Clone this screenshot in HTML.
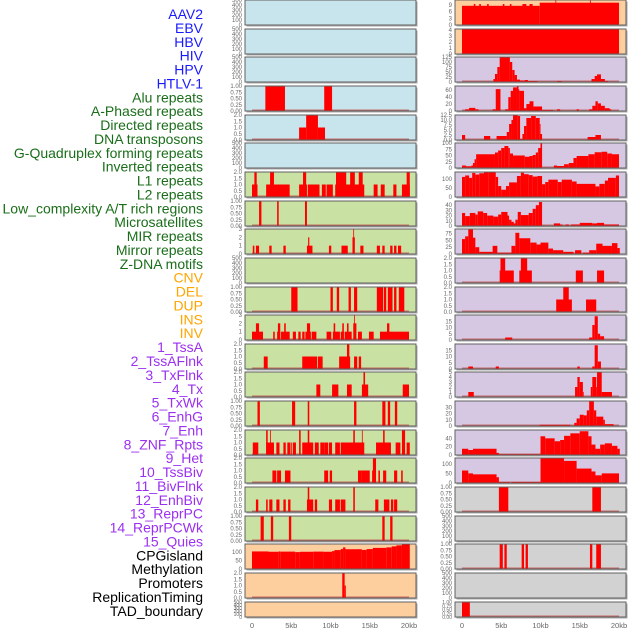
<!DOCTYPE html>
<html><head><meta charset="utf-8"><style>
html,body{margin:0;padding:0;background:#fff;}
svg{display:block;font-family:"Liberation Sans",sans-serif;}
</style></head><body>
<svg id="chart" width="630" height="630" viewBox="0 0 630 630" xmlns="http://www.w3.org/2000/svg"></svg>
<script>
const labelNames = ["AAV2","EBV","HBV","HIV","HPV","HTLV-1","Alu repeats","A-Phased repeats","Directed repeats","DNA transposons","G-Quadruplex forming repeats","Inverted repeats","L1 repeats","L2 repeats","Low_complexity A/T rich regions","Microsatellites","MIR repeats","Mirror repeats","Z-DNA motifs","CNV","DEL","DUP","INS","INV","1_TssA","2_TssAFlnk","3_TxFlnk","4_Tx","5_TxWk","6_EnhG","7_Enh","8_ZNF_Rpts","9_Het","10_TssBiv","11_BivFlnk","12_EnhBiv","13_ReprPC","14_ReprPCWk","15_Quies","CPGisland","Methylation","Promoters","ReplicationTiming","TAD_boundary"];
const labelGroups = [0,0,0,0,0,0,1,1,1,1,1,1,1,1,1,1,1,1,1,2,2,2,2,2,3,3,3,3,3,3,3,3,3,3,3,3,3,3,3,4,4,4,4,4];
const xTickValues = [0,5,10,15,20];
const xTickLabels = ["0","5kb","10kb","15kb","20kb"];

const leftBg = ["b","b","b","b","b","b","g","g","g","g","g","g","g","g","g","g","g","g","g","o","o","o"];
const rightBg = ["o","o","p","p","p","p","p","p","p","p","p","p","p","p","p","p","p","y","y","y","y","y"];
const leftYMax = [500,500,500,1,2,500,2,1,3,500,1,3,2,2,1,2,2,2,1,148,2,500];
const rightYMax = [11.2,4.2,125,72,12.5,100,137,48,92,2,2,20,20,5,40,60,130,1,500,1,500,1];
const leftTicks = [
 ["0","100","200","300","400","500"],["0","100","200","300","400","500"],["0","100","200","300","400","500"],
 ["0.00","0.25","0.50","0.75","1.00"],["0.0","0.5","1.0","1.5","2.0"],["0","100","200","300","400","500"],
 ["0.0","0.5","1.0","1.5","2.0"],["0.00","0.25","0.50","0.75","1.00"],["0","1","2","3"],["0","100","200","300","400","500"],
 ["0.00","0.25","0.50","0.75","1.00"],["0","1","2","3"],["0.0","0.5","1.0","1.5","2.0"],["0.0","0.5","1.0","1.5","2.0"],
 ["0.00","0.25","0.50","0.75","1.00"],["0.0","0.5","1.0","1.5","2.0"],["0.0","0.5","1.0","1.5","2.0"],["0.0","0.5","1.0","1.5","2.0"],
 ["0.00","0.25","0.50","0.75","1.00"],["0","50","100"],["0.0","0.5","1.0","1.5","2.0"],["0","100","200","300","400","500"]];
const rightTicks = [
 ["0","3","6","9"],["0","1","2","3","4"],["0","25","50","75","100","125"],["0","20","40","60"],["0.0","2.5","5.0","7.5","10.0","12.5"],
 ["0","25","50","75","100"],["0","50","100"],["0","10","20","30","40"],["0","25","50","75"],["0.0","0.5","1.0","1.5","2.0"],
 ["0.0","0.5","1.0","1.5","2.0"],["0","5","10","15"],["0","5","10","15"],["0","1","2","3","4","5"],["0","10","20","30"],
 ["0","20","40"],["0","50","100"],["0.00","0.25","0.50","0.75","1.00"],["0","100","200","300","400","500"],
 ["0.00","0.25","0.50","0.75","1.00"],["0","100","200","300","400","500"],["0.00","0.25","0.50","0.75","1.00"]];

const leftBars = [
 [],[],[],
 [[1.7,4.2,1],[9.2,10.2,1]],
 [[6.0,6.9,1],[6.9,8.4,2],[8.4,9.3,1]],
 [],
 [[0,0.7,1],[0.3,0.6,2],[1.8,4.8,1],[2.3,2.8,2],[6.0,7.0,1],[6.5,6.9,2],[7.1,8.6,1],[8.9,9.4,1],[9.5,10.3,1],[10.6,14.3,1],[10.7,12.0,2],[12.5,13.1,2],[13.6,14.1,2],[15.5,16.0,1],[16.4,16.9,1],[18.0,18.4,1],[19.1,20.1,1],[19.7,20.1,2]],
 [[0.9,1.2,1],[3.2,3.4,1],[6.75,7.0,1]],
 [[0.1,0.3,1],[0.5,0.9,1],[2.2,2.5,1],[4.0,4.3,1],[7.0,7.7,1],[7.15,7.3,2],[9.8,10.1,1],[11.4,12.2,1],[12.8,13.1,2],[12.9,13.0,3],[13.8,14.2,1],[15.9,16.3,1],[16.6,16.9,1],[17.6,17.9,1],[18.1,18.4,1],[18.6,19.0,1]],
 [],
 [[5.0,5.8,1],[10.0,10.3,1],[10.8,11.1,1],[12.3,12.6,1],[13.0,13.4,1],[15.9,16.7,1],[16.8,17.1,1],[17.3,17.9,1],[18.1,18.4,1],[18.7,19.4,1]],
 [[0,1.4,1],[0.5,0.9,2],[2.7,2.9,1],[3.2,3.6,1],[3.3,3.6,2],[3.7,4.8,1],[4.1,4.3,2],[5.2,5.6,1],[5.9,6.2,1],[6.4,6.7,1],[6.8,7.5,1],[7.0,7.4,2],[7.6,8.2,1],[9.5,10.1,1],[10.3,11.2,1],[10.4,10.6,2],[11.3,11.7,1],[11.5,11.7,2],[11.8,12.7,1],[12.1,12.3,2],[12.9,13.3,2],[13.0,13.1,3],[13.5,14.0,1],[14.9,15.5,1],[16.3,20.0,1],[17.2,17.5,2]],
 [[1.5,2.0,1],[6.4,8.3,1],[8.4,9.0,1],[11.1,12.5,1],[12.1,12.4,2],[13.0,13.4,1],[13.6,13.9,1]],
 [[8.2,8.7,1],[10.2,11.0,1],[12.1,12.7,1],[14.0,14.8,1],[14.2,14.4,2],[19.2,20.0,1]],
 [[0.7,1.0,1],[5.1,5.5,1],[7.1,7.3,1],[13.0,13.3,1],[16.6,17.0,1],[17.3,17.6,1],[18.2,18.5,1]],
 [[0.1,0.8,1],[1.8,2.8,1],[1.8,2.0,2],[2.3,2.4,2],[3.1,3.5,1],[4.0,4.3,1],[4.5,4.9,1],[5.0,5.1,1],[5.2,5.6,1],[6.0,6.2,2],[6.4,7.8,1],[7.1,7.3,2],[8.0,8.5,1],[8.7,9.2,1],[9.2,9.7,1],[9.8,10.2,1],[10.6,11.2,1],[11.3,14.3,1],[12.9,13.1,2],[14.0,14.1,2],[15.8,17.7,1],[16.7,16.9,2],[18.3,18.9,1],[19.1,19.5,2],[19.7,20.1,1]],
 [[2.6,3.1,1],[3.2,3.7,1],[4.2,4.9,1],[9.2,9.7,1],[9.9,10.2,1],[13.5,14.0,1],[14.0,15.0,1],[15.3,15.8,1],[15.4,15.8,2],[16.1,16.3,1],[16.7,17.1,1],[18.1,18.5,1],[19.0,19.2,1]],
 [[0.5,0.8,1],[1.8,2.0,1],[2.2,2.6,1],[3.1,3.5,1],[4.0,4.3,1],[4.6,4.9,1],[7.0,7.8,1],[7.1,7.3,2],[8.0,8.3,1],[9.8,10.2,1],[10.6,11.2,1],[11.3,11.9,1],[12.9,13.1,2],[15.7,16.1,1],[16.8,17.5,1],[17.7,18.0,1],[18.1,18.5,1]],
 [[1.1,1.5,1],[2.4,2.7,1],[4.7,5.0,1],[16.6,16.9,1],[17.6,17.9,1]],
 [[0,2.1,104],[2.1,3.4,102],[3.4,3.6,104],[3.6,5.5,103],[5.5,6.1,100],[6.1,7.8,102],[7.8,9.1,103],[9.1,10.2,102],[10.2,10.5,106],[10.5,11.3,112],[11.3,11.6,118],[11.6,11.9,128],[11.9,14.0,117],[14.0,14.6,113],[14.6,15.4,118],[15.4,17.1,125],[17.1,17.8,128],[17.8,18.4,134],[18.4,19.1,140],[19.1,20.1,148]],
 [[11.5,11.8,2],[11.8,11.95,1]],
 []];

const rightBars = [
 [[0,9.9,8.6],[9.9,20,10.0],[1.5,1.7,9.4],[2.2,2.4,9.4],[3.2,3.4,9.4],[5.2,5.4,9.4],[6.1,6.3,9.4],[7.7,8.2,9.4],[8.6,9.0,9.4],[11.9,12.0,11.2],[16.3,16.4,11.2]],
 [[0,20,4.2]],
 [[4.0,4.2,15],[4.2,4.5,40],[4.5,4.8,75],[4.8,6.1,125],[6.1,6.4,100],[6.4,6.7,60],[6.7,7.0,35],[7.0,7.4,12],[7.4,8.0,8],[8.0,8.4,10],[8.4,9.6,5],[12.1,12.7,5],[16.5,16.9,15],[16.9,17.2,30],[17.2,17.7,38],[17.7,18.2,15],[18.2,18.6,5]],
 [[0.4,0.9,5],[0.9,1.7,9],[1.7,2.1,5],[3.9,4.3,5],[4.3,4.9,63],[5.5,5.9,5],[5.9,6.2,40],[6.2,6.5,58],[6.5,7.0,68],[7.0,7.2,72],[7.2,7.3,62],[7.3,7.9,58],[7.9,8.2,8],[8.2,8.6,20],[8.6,9.1,28],[9.1,10.2,13],[10.2,11.6,3],[12.1,12.5,5],[14.6,14.9,5],[16.2,16.6,5],[16.6,17.0,15],[17.0,17.3,28],[17.3,17.7,22],[17.7,18.2,15],[18.2,18.8,8],[18.8,19.0,5]],
 [[0,0.4,2.5],[2.8,3.6,2],[4.4,5.7,2],[5.7,6.0,4],[6.0,6.3,8],[6.3,6.5,10],[6.5,7.1,12.5],[7.1,7.4,12],[7.4,7.7,0.5],[7.7,7.9,3],[7.9,8.2,7],[8.2,8.8,11],[8.8,9.4,12],[9.4,9.9,11],[9.9,10.0,8],[10.0,10.2,3],[16.0,17.0,1.5],[17.0,17.7,2.5]],
 [[0,0.5,10],[0.5,1.2,7],[1.2,1.4,10],[1.4,1.6,20],[1.6,1.8,35],[1.8,2.1,55],[2.1,4.2,55],[4.2,4.6,62],[4.6,5.0,70],[5.0,5.4,80],[5.4,5.9,88],[5.9,6.1,80],[6.1,6.5,58],[6.5,8.0,50],[8.0,8.6,45],[8.6,9.0,48],[9.0,9.4,52],[9.4,9.7,62],[9.7,10.0,80],[10.0,10.2,100],[11.7,12.1,10],[12.1,13.0,8],[13.0,13.6,15],[13.6,14.2,20],[14.2,14.6,40],[14.6,16.1,48],[16.1,16.9,55],[16.9,17.8,63],[17.8,18.5,65],[18.5,19.1,58],[19.1,20.0,55]],
 [[0,0.4,110],[0.4,0.9,118],[0.9,1.3,105],[1.3,1.7,132],[1.7,2.2,123],[2.2,2.8,130],[2.8,3.4,135],[3.4,4.3,137],[4.3,4.6,110],[4.6,5.0,60],[5.0,5.6,40],[5.6,6.0,60],[6.0,7.0,80],[7.0,7.5,115],[7.5,7.9,133],[7.9,8.5,125],[8.5,9.0,120],[9.0,9.6,112],[9.6,10.2,115],[10.2,10.6,70],[10.6,11.0,82],[11.0,12.2,95],[12.2,12.7,82],[12.7,14.0,95],[14.0,14.6,85],[14.6,17.0,72],[17.0,17.5,58],[17.5,18.2,72],[18.2,18.6,90],[18.6,19.6,105],[19.6,20.0,118]],
 [[0,0.4,25],[0.4,1.0,19],[1.0,1.7,25],[1.7,2.0,22],[2.0,2.7,28],[2.7,3.2,25],[3.2,4.0,20],[4.0,4.6,18],[4.6,5.0,22],[5.0,5.8,27],[5.8,6.0,20],[6.0,6.3,12],[6.3,6.6,8],[6.6,6.8,5],[6.8,7.1,12],[7.1,7.5,27],[7.5,8.5,21],[8.5,9.0,25],[9.0,9.4,33],[9.4,9.8,40],[9.8,10.2,46],[10.2,11.7,1],[11.7,12.5,5],[12.5,12.8,3],[13.2,13.6,3],[13.9,15.0,3],[15.0,16.6,6],[16.6,17.2,5],[17.2,18.1,6],[18.1,20.0,3]],
 [[0,0.4,55],[0.4,0.8,65],[0.8,1.4,90],[1.4,1.7,60],[1.7,2.2,25],[2.2,3.9,8],[3.9,4.5,30],[4.5,6.3,5],[6.3,6.8,30],[6.8,7.3,78],[7.3,8.7,58],[8.7,9.5,42],[9.5,10.0,35],[10.0,11.0,42],[11.0,11.6,20],[11.6,12.9,14],[12.9,14.2,8],[14.4,15.2,14],[15.4,16.2,5],[16.2,17.1,14],[17.1,17.9,38],[17.9,19.1,30],[19.1,19.8,40],[19.8,20.1,22]],
 [[4.8,6.6,1],[4.9,5.5,2],[7.3,8.9,1],[7.5,8.3,2],[14.5,15.4,1],[17.2,18.1,1]],
 [[12.0,14.0,1],[12.9,13.6,2],[15.8,17.1,1]],
 [[5.5,6.4,2],[16.2,16.6,2],[16.6,16.9,12],[16.9,17.3,19],[17.3,17.6,5],[17.6,18.1,3]],
 [[0.8,1.4,2],[4.3,4.7,2],[14.7,15.0,2],[16.6,16.9,2],[16.9,17.3,19],[17.3,17.7,6]],
 [[0.8,1.5,1],[14.4,14.7,2],[14.7,15.0,4],[15.0,15.4,3],[15.4,15.5,1],[16.4,16.6,2],[16.6,17.1,4],[17.1,17.2,2],[17.2,17.8,5],[17.8,19.1,1]],
 [[9.9,13.8,2],[14.3,14.6,5],[14.6,15.0,12],[15.0,15.5,18],[15.5,15.9,17],[15.9,16.2,25],[16.2,16.8,40],[16.8,17.1,25],[17.1,18.0,15],[18.0,18.2,10],[18.2,19.3,3]],
 [[0,0.8,15],[0.8,1.4,12],[1.4,4.4,15],[4.4,4.7,5],[4.7,10.0,2],[10.0,10.6,45],[10.6,11.8,40],[11.8,12.5,33],[12.5,13.0,36],[13.0,13.8,46],[13.8,15.0,52],[15.0,16.1,57],[16.1,16.5,45],[16.5,17.0,25],[17.0,17.6,15],[17.6,18.2,25],[18.2,19.1,28],[19.1,19.8,22],[19.8,20.1,15]],
 [[0,0.8,65],[0.8,1.4,50],[1.4,4.4,45],[4.4,4.7,30],[4.7,6.1,5],[6.3,10.0,5],[10.0,13.0,130],[13.0,14.6,115],[14.6,16.5,75],[16.5,17.0,60],[17.0,17.8,40],[17.8,20.0,50]],
 [[4.7,5.9,1],[16.6,17.7,1]],
 [],
 [[4.8,5.2,1],[5.4,5.7,1],[7.6,7.9,1],[8.1,8.4,1],[16.3,16.6,1],[17.1,17.7,1]],
 [],
 [[0,1.0,1]]];

const NS = "http://www.w3.org/2000/svg";
const svg = document.getElementById('chart');
function mk(tag, attrs, parent){ const e=document.createElementNS(NS,tag); for(const k in attrs) e.setAttribute(k,attrs[k]); (parent||svg).appendChild(e); return e; }
const bgColors = {b:"#c8e5ed",g:"#c9e1a2",o:"#fecf9e",p:"#d6c7e3",y:"#d2d2d2"};
const groupColors = ["#1a1aff","#1a6e1a","#ffa500","#9b30f0","#000000"];

// labels
labelNames.forEach((n,i)=>{
  const t = mk('text',{x:203,y:19+i*13.88,'text-anchor':'end','font-size':14,fill:groupColors[labelGroups[i]]});
  t.textContent = n;
  
  
});

function panelTop(i){ return Math.round(i*28.65); }
function panelH(i){ return i===21 ? 15 : 25; }

function drawColumn(x0, bgs, ymaxes, ticks, bars, side){
  const w = 171;
  const xs = kb => x0 + 7 + kb*7.85;
  const g = mk('g',{});
  
  
  for(let i=0;i<22;i++){
    const top = panelTop(i), h = panelH(i), bot = top+h;
    const ymax = ymaxes[i];
    const ys = v => bot - (v/ymax)*h;
    const pg = mk('g',{},g);
    
    
    mk('rect',{x:x0+1.5,y:top+1.5,width:w,height:h,fill:'#aaa'},pg);
    const bg = mk('rect',{x:x0,y:top,width:w,height:h,fill:bgColors[bgs[i]],stroke:'#606060','stroke-width':1},pg);
    
    
    if(bars[i].length){
      const bl = mk('rect',{x:xs(0),y:bot-1.5,width:xs(20)-xs(0),height:1.5,fill:'#c0504d',opacity:0.8},pg);
      
      
    }
    bars[i].forEach(b=>{
      const v = Math.min(b[2],ymax);
      const r = mk('rect',{x:xs(b[0]),y:ys(v),width:Math.max(0.8,xs(b[1])-xs(b[0])),height:bot-ys(v),fill:'#ff0000'},pg);
      
      
    });
    mk('rect',{x:x0,y:top,width:w,height:h,fill:'none',stroke:'#606060','stroke-width':1},pg);
    const tk = ticks[i];
    const step = ymax===500 ? 100 : null;
    tk.forEach((lab)=>{
      const v = parseFloat(lab);
      const y = ys(v);
      const t = mk('text',{x:x0-3,y:y+2,'text-anchor':'end','font-size':(i===21?5:6),fill:'#666'},pg);
      t.textContent = lab;
      
      
    });
  }
  xTickValues.forEach((v,k)=>{
    const t = mk('text',{x:xs(v),y:628,'text-anchor':'middle','font-size':7.5,fill:'#666'},g);
    t.textContent = xTickLabels[k];
    
    
  });
}
drawColumn(245, leftBg, leftYMax, leftTicks, leftBars, 'left');
drawColumn(455, rightBg, rightYMax, rightTicks, rightBars, 'right');
</script>
</body></html>
